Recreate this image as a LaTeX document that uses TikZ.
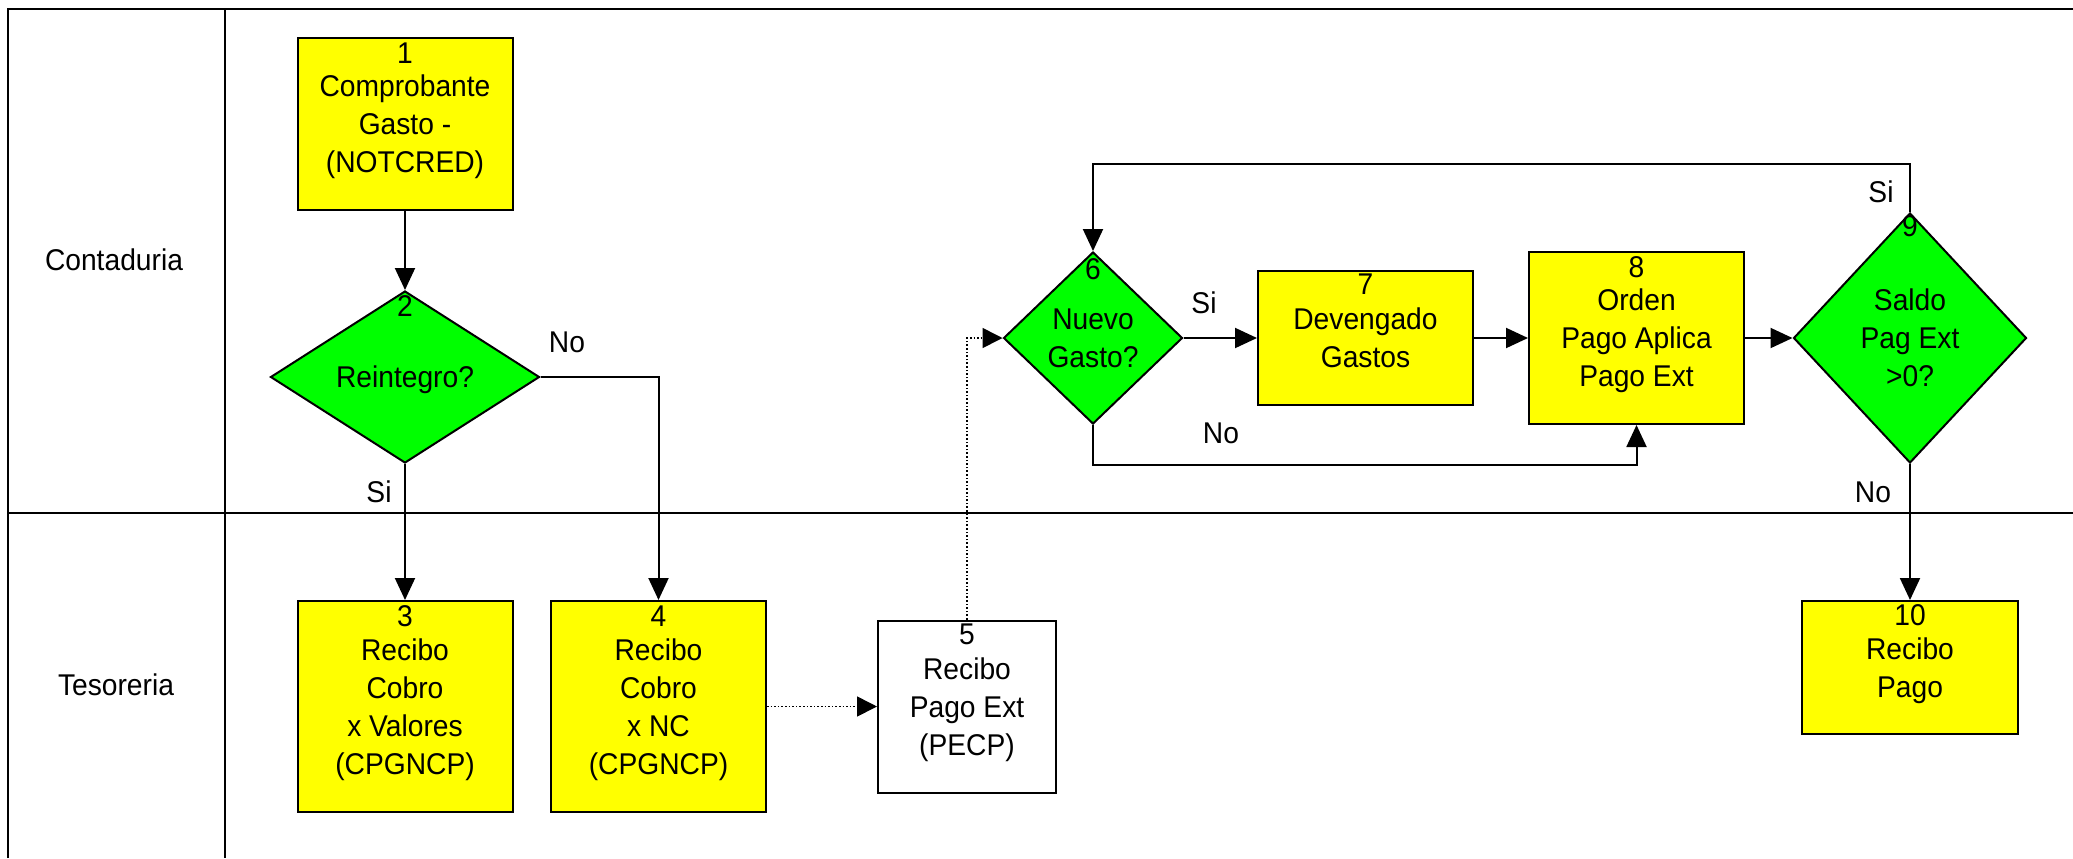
\documentclass[tikz,border=0pt]{standalone}
\usepackage{fontspec}
\setmainfont{Liberation Sans}[FakeStretch=0.94]
\usetikzlibrary{arrows.meta,shapes.geometric}
\definecolor{boxyellow}{RGB}{255,255,0}
\definecolor{decgreen}{RGB}{0,255,0}
\tikzset{
  every node/.style={font=\fontsize{15}{19}\selectfont, inner sep=0pt},
  procbox/.style={draw=black, line width=1pt, fill=boxyellow, rectangle, align=center, text depth=0pt},
  whitebox/.style={draw=black, line width=1pt, fill=white, rectangle, align=center, text depth=0pt},
  decision/.style={draw=black, line width=1pt, fill=decgreen, diamond, align=center, text depth=0pt},
  conn/.style={line width=1pt, -{Triangle[length=11pt,width=10pt]}},
  dotconn/.style={line width=0.8pt, dash pattern=on 0.8pt off 1pt, -{Triangle[length=10pt,width=10pt]}},
  lane/.style={line width=1pt},
  lbl/.style={align=center},
}
\begin{document}
\begin{tikzpicture}[x=0.5pt,y=-0.5pt]
\useasboundingbox (0,0) rectangle (2073,858);
% lanes
\draw[lane] (8,858) -- (8,9) -- (2073,9);
\draw[lane] (225,9) -- (225,858);
\draw[lane] (8,513) -- (2073,513);
\node[lbl] (lc) at (114,260) {Contaduria};
\node[lbl] (lt) at (116,685) {Tesoreria};
% shapes
\node[procbox, minimum width=107.5pt, minimum height=86pt] (b1) at (405,124) {Comprobante\\Gasto -\\(NOTCRED)};
\node[decision, minimum width=134.5pt, minimum height=86pt] (d2) at (405,377) {Reintegro?};
\node[procbox, minimum width=107.5pt, minimum height=105.5pt] (b3) at (405,706.5) {Recibo\\Cobro\\x Valores\\(CPGNCP)};
\node[procbox, minimum width=107.5pt, minimum height=105.5pt] (b4) at (658.5,706.5) {Recibo\\Cobro\\x NC\\(CPGNCP)};
\node[whitebox, minimum width=89pt, minimum height=86pt] (b5) at (967,706.5) {Recibo\\Pago Ext\\(PECP)};
\node[decision, minimum width=89.5pt, minimum height=86pt] (d6) at (1093,338) {Nuevo\\Gasto?};
\node[procbox, minimum width=107.5pt, minimum height=67pt] (b7) at (1365.5,338) {Devengado\\Gastos};
\node[procbox, minimum width=107.5pt, minimum height=86pt] (b8) at (1636.5,338) {Orden\\Pago Aplica\\Pago Ext};
\node[decision, minimum width=116.5pt, minimum height=125pt] (d9) at (1910,338) {Saldo\\Pag Ext\\>0?};
\node[procbox, minimum width=108pt, minimum height=66.5pt] (b10) at (1910,667.5) {Recibo\\Pago};
% numbers
\node (n1) at ([yshift=-8pt]b1.north) {1};
\node (n2) at ([yshift=-8pt]d2.north) {2};
\node (n3) at ([yshift=-8pt]b3.north) {3};
\node (n4) at ([yshift=-8pt]b4.north) {4};
\node (n5) at ([yshift=-7.5pt]b5.north) {5};
\node (n6) at ([yshift=-9pt]d6.north) {6};
\node (n7) at ([yshift=-7pt]b7.north) {7};
\node (n8) at ([yshift=-8pt]b8.north) {8};
\node (n9) at ([yshift=-7pt]d9.north) {9};
\node (n10) at ([yshift=-7.5pt]b10.north) {10};
% connector coordinates
\coordinate (top9) at (1910,164);
\coordinate (bot6) at (1093,465);
% connectors
\draw[conn] (b1.south) -- (d2.north);
\draw[conn] (d2.south) -- (b3.north);
\draw[conn] (d2.east) -| (b4.north);
\draw[dotconn] (b4.east) -- (b5.west);
\draw[dotconn] (b5.north) |- (d6.west);
\draw[conn] (d6.east) -- (b7.west);
\draw[conn] (b7.east) -- (b8.west);
\draw[conn] (b8.east) -- (d9.west);
\draw[conn] (d9.north) -- (top9) -| (d6.north);
\draw[conn] (d6.south) -- (bot6) -| (b8.south);
\draw[conn] (d9.south) -- (b10.north);
% labels
\node (l2no) at (567,342) {No};
\node (l2si) at (379,492) {Si};
\node (l6si) at (1204,303) {Si};
\node (l6no) at (1221,433) {No};
\node (l9si) at (1881,192) {Si};
\node (l9no) at (1873,492) {No};
\end{tikzpicture}
\end{document}
